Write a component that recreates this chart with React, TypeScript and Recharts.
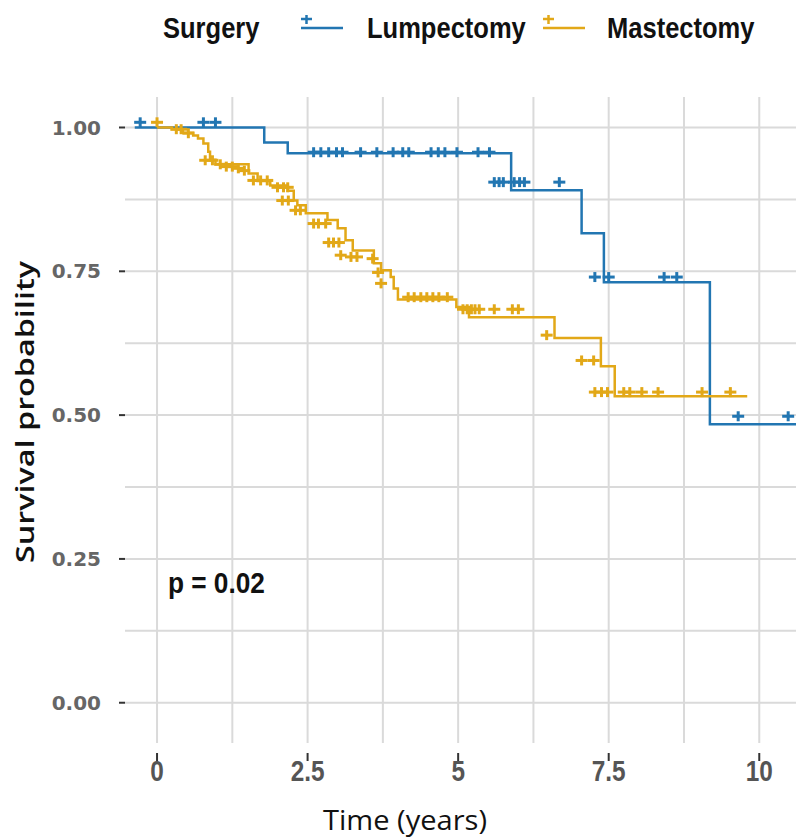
import React from "react";
import {
  ComposedChart,
  Line,
  Scatter,
  XAxis,
  YAxis,
  CartesianGrid,
  Legend,
  ReferenceDot,
} from "recharts";

// Kaplan-Meier step points (time in years, survival probability)
const LUMP_TIME = [-0.37, 1.78, 2.17, 5.88, 7.05, 7.42, 9.18, 10.61];
const LUMP_SURV = [1.0, 0.974, 0.955, 0.891, 0.816, 0.731, 0.484, 0.484];

const MAST_TIME = [
  0, 0.25, 0.43, 0.6, 0.68, 0.77, 0.85, 0.88, 0.97, 1.52, 1.67, 1.88, 2.17, 2.27,
  2.33, 2.47, 2.83, 3.0, 3.13, 3.25, 3.6, 3.72, 3.88, 3.93, 4.0, 4.97, 5.18, 6.6,
  7.37, 7.6, 9.8,
];
const MAST_SURV = [
  1.0, 0.997, 0.991, 0.986, 0.981, 0.972, 0.958, 0.944, 0.936, 0.92, 0.907, 0.899,
  0.89, 0.873, 0.865, 0.851, 0.839, 0.825, 0.804, 0.786, 0.764, 0.752, 0.74, 0.72,
  0.701, 0.688, 0.67, 0.634, 0.585, 0.533, 0.533,
];

// censoring marks
const LUMP_CENS_TIME = [
  -0.28, 0.77, 0.97, 2.6, 2.72, 2.85, 2.98, 3.08, 3.38, 3.65, 3.92, 4.08, 4.18,
  4.55, 4.67, 4.78, 4.98, 5.33, 5.52, 5.6, 5.68, 5.75, 5.93, 6.02, 6.1, 6.68, 7.27,
  7.5, 8.42, 8.63, 9.65, 10.48,
];
const LUMP_CENS_SURV = [
  1.009, 1.009, 1.009, 0.957, 0.957, 0.957, 0.957, 0.957, 0.957, 0.957, 0.957,
  0.957, 0.957, 0.957, 0.957, 0.957, 0.957, 0.957, 0.957, 0.905, 0.905, 0.905,
  0.905, 0.905, 0.905, 0.905, 0.74, 0.74, 0.74, 0.74, 0.498, 0.498,
];

const MAST_CENS_TIME = [
  0, 0.32, 0.4, 0.52, 0.8, 0.92, 1.05, 1.15, 1.25, 1.35, 1.45, 1.6, 1.72, 1.83, 2.0,
  2.1, 2.17, 2.08, 2.18, 2.3, 2.38, 2.6, 2.68, 2.8, 2.85, 2.93, 3.02, 3.05, 3.22,
  3.32, 3.58, 3.67, 3.72, 4.17, 4.27, 4.38, 4.48, 4.58, 4.68, 4.82, 5.08, 5.15,
  5.22, 5.28, 5.35, 5.6, 5.9, 6.0, 6.47, 7.05, 7.25, 7.27, 7.38, 7.48, 7.75, 7.85,
  8.05, 8.32, 9.05, 9.52,
];
const MAST_CENS_SURV = [
  1.009, 0.997, 0.997, 0.99, 0.943, 0.943, 0.936, 0.932, 0.932, 0.929, 0.925, 0.908,
  0.908, 0.908, 0.896, 0.896, 0.896, 0.873, 0.873, 0.856, 0.856, 0.833, 0.833,
  0.833, 0.8, 0.8, 0.8, 0.778, 0.775, 0.775, 0.772, 0.748, 0.729, 0.705, 0.705,
  0.705, 0.705, 0.705, 0.705, 0.705, 0.684, 0.684, 0.684, 0.684, 0.684, 0.684,
  0.684, 0.684, 0.639, 0.595, 0.595, 0.54, 0.54, 0.54, 0.54, 0.54, 0.54, 0.54,
  0.54, 0.54,
];

const X_TICKS = [0, 2.5, 5, 7.5, 10];
const X_GRID = [0, 1.25, 2.5, 3.75, 5, 6.25, 7.5, 8.75, 10];
const Y_TICKS = [0, 0.25, 0.5, 0.75, 1];
const Y_GRID = [0, 0.125, 0.25, 0.375, 0.5, 0.625, 0.75, 0.875, 1];

const LEGEND_TITLE = "Surgery";
const GROUPS = ["Lumpectomy", "Mastectomy"];
const P_LABEL = "p = 0.02";

const BLUE = "#2276b2";
const ORANGE = "#e2a818";
const SANS = '"Liberation Sans", Arial, sans-serif';

const zip = (t: number[], s: number[]) => t.map((time, i) => ({ time, surv: s[i] }));

const lumpCurve = zip(LUMP_TIME, LUMP_SURV);
const mastCurve = zip(MAST_TIME, MAST_SURV);
const lumpCens = zip(LUMP_CENS_TIME, LUMP_CENS_SURV);
const mastCens = zip(MAST_CENS_TIME, MAST_CENS_SURV);

function CensorMark(props: any) {
  const { cx, cy, fill } = props;
  return (
    <g stroke={fill} strokeWidth={3}>
      <line x1={cx - 6} x2={cx + 6} y1={cy} y2={cy} />
      <line x1={cx} x2={cx} y1={cy - 5} y2={cy + 5} />
    </g>
  );
}

function LegendIcon({ color }: { color: string }) {
  return (
    <svg width={46} height={20} style={{ display: "block" }}>
      <g stroke={color} strokeWidth={2.5}>
        <line x1={2} x2={44} y1={13} y2={13} />
        <line x1={2} x2={13} y1={4} y2={4} />
        <line x1={7.5} x2={7.5} y1={0} y2={9} />
      </g>
    </svg>
  );
}

function LegendContent() {
  const textStyle: React.CSSProperties = {
    position: "absolute",
    top: 11,
    fontFamily: SANS,
    fontWeight: 700,
    fontSize: 29,
    lineHeight: "34px",
    color: "#111",
    whiteSpace: "nowrap",
    transform: "scaleX(0.88)",
    transformOrigin: "left center",
  };
  return (
    <div style={{ position: "relative", height: 0, width: 796 }}>
      <span style={{ ...textStyle, left: 163 }}>{LEGEND_TITLE}</span>
      <div style={{ position: "absolute", left: 299, top: 15 }}>
        <LegendIcon color={BLUE} />
      </div>
      <span style={{ ...textStyle, left: 367 }}>{GROUPS[0]}</span>
      <div style={{ position: "absolute", left: 541, top: 15 }}>
        <LegendIcon color={ORANGE} />
      </div>
      <span style={{ ...textStyle, left: 607 }}>{GROUPS[1]}</span>
    </div>
  );
}

function TimeTick(props: any) {
  const { x, y, payload } = props;
  return (
    <g>
      <line x1={x} x2={x} y1={y + 10} y2={y + 18} stroke="#333" strokeWidth={2} />
      <text
        x={x}
        y={y + 38}
        textAnchor="middle"
        fill="#555"
        fontFamily={SANS}
        fontWeight={700}
        fontSize={29}
        transform={`translate(${x} 0) scale(0.84 1) translate(${-x} 0)`}
      >
        {payload.value}
      </text>
    </g>
  );
}

export default function App() {
  return (
    <div
      style={{
        position: "absolute",
        left: 0,
        top: 0,
        width: 796,
        height: 838,
        background: "#fff",
      }}
    >
      <ComposedChart
        width={796}
        height={838}
        margin={{ top: 97, right: 0, bottom: 0, left: 0 }}
      >
        <CartesianGrid
          stroke="#dadada"
          strokeWidth={2}
          verticalValues={X_GRID}
          horizontalValues={Y_GRID}
        />
        <XAxis
          type="number"
          dataKey="time"
          domain={[-0.532, 10.61]}
          allowDataOverflow
          ticks={X_TICKS}
          axisLine={false}
          tickLine={false}
          tickSize={0}
          tickMargin={0}
          height={95}
          tick={<TimeTick />}
          label={() => (
            <text
              x={405}
              y={830}
              textAnchor="middle"
              fill="#111"
              fontFamily='"Open Sans", sans-serif'
              fontSize={27}
              textLength={164}
              lengthAdjust="spacingAndGlyphs"
            >
              Time (years)
            </text>
          )}
        />
        <YAxis
          type="number"
          dataKey="surv"
          domain={[-0.07, 1.053]}
          allowDataOverflow
          ticks={Y_TICKS}
          width={125}
          axisLine={false}
          tickSize={6}
          tickMargin={18}
          tickLine={{ stroke: "#333", strokeWidth: 2 }}
          tickFormatter={(v: number) => v.toFixed(2)}
          tick={{
            fill: "#666",
            fontSize: 20,
            fontWeight: 700,
            fontFamily: '"DejaVu Sans", sans-serif',
          }}
          label={() => (
            <text
              x={34}
              y={412}
              transform="rotate(-90 34 412)"
              textAnchor="middle"
              fill="#111"
              fontFamily='"Open Sans", sans-serif'
              fontWeight={600}
              fontSize={26}
              textLength={302}
              lengthAdjust="spacingAndGlyphs"
            >
              Survival probability
            </text>
          )}
        />
        <Legend verticalAlign="top" wrapperStyle={{ top: 0, left: 0 }} content={<LegendContent />} />
        <Line
          data={lumpCurve}
          dataKey="surv"
          type="stepAfter"
          stroke={BLUE}
          strokeWidth={2.5}
          dot={false}
          isAnimationActive={false}
          name={GROUPS[0]}
        />
        <Scatter
          data={lumpCens}
          dataKey="surv"
          fill={BLUE}
          shape={<CensorMark />}
          legendType="none"
          isAnimationActive={false}
        />
        <Line
          data={mastCurve}
          dataKey="surv"
          type="stepAfter"
          stroke={ORANGE}
          strokeWidth={2.5}
          dot={false}
          isAnimationActive={false}
          name={GROUPS[1]}
        />
        <Scatter
          data={mastCens}
          dataKey="surv"
          fill={ORANGE}
          shape={<CensorMark />}
          legendType="none"
          isAnimationActive={false}
        />
        <ReferenceDot
          x={0.18}
          y={0.208}
          r={0}
          shape={(p: any) => (
            <text
              x={p.cx}
              y={p.cy}
              dy={10}
              fill="#111"
              fontFamily={SANS}
              fontWeight={700}
              fontSize={29}
              textLength={97}
              lengthAdjust="spacingAndGlyphs"
            >
              {P_LABEL}
            </text>
          )}
        />
      </ComposedChart>
    </div>
  );
}
